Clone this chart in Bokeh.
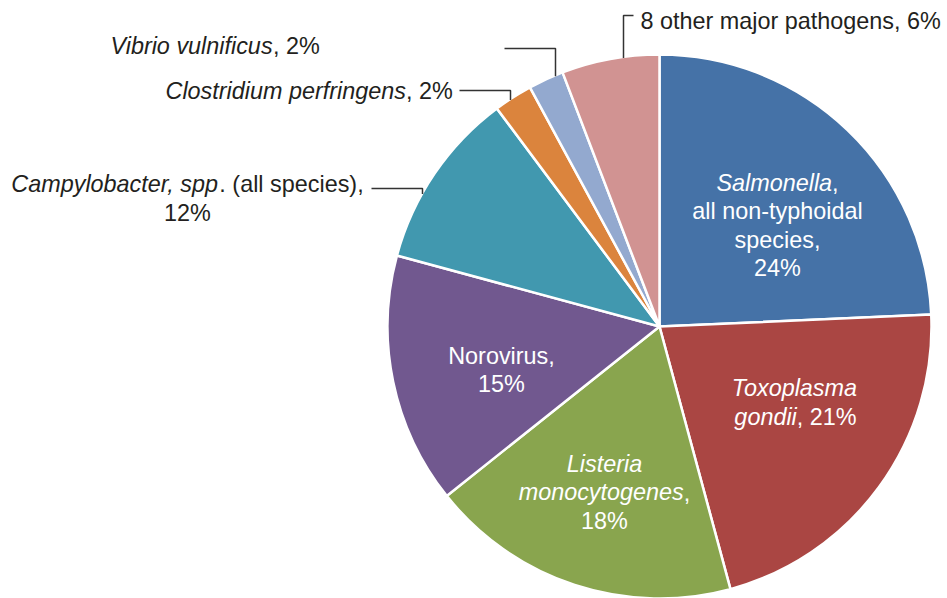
import math
from bokeh.plotting import figure
from bokeh.models import ColumnDataSource, Range1d
from bokeh.core.properties import value
from bokeh.embed import file_html
from bokeh.resources import INLINE

# ---------------- data ----------------
categories = ["Salmonella", "Toxoplasma gondii", "Listeria monocytogenes", "Norovirus",
              "Campylobacter spp.", "Clostridium perfringens", "Vibrio vulnificus",
              "8 other major pathogens"]
shares = [24.3, 21.5, 18.5, 14.9, 10.6, 2.3, 2.1, 5.8]
colors = ["#4572A7", "#AA4643", "#89A54E", "#71588F", "#4198AF", "#DB843D", "#93A9CF", "#D19392"]
pct_labels = ["24%", "21%", "18%", "15%", "12%", "2%", "2%", "6%"]

I, N = "italic", "normal"
label_lines = [
    [[("Salmonella", I), (",", N)], [("all non-typhoidal", N)], [("species,", N)], [(pct_labels[0], N)]],
    [[("Toxoplasma", I)], [("gondii", I), (", " + pct_labels[1], N)]],
    [[("Listeria", I)], [("monocytogenes", I), (",", N)], [(pct_labels[2], N)]],
    [[("Norovirus,", N)], [(pct_labels[3], N)]],
    [[("Campylobacter, spp", I), (". (all species),", N)], [(pct_labels[4], N)]],
    [[("Clostridium perfringens", I), (", " + pct_labels[5], N)]],
    [[("Vibrio vulnificus", I), (", " + pct_labels[6], N)]],
    [[("8 other major pathogens, " + pct_labels[7], N)]],
]

# ---------------- layout (reference pixel coordinates) ----------------
W, H = 947, 598
CX, CY, R = 659, 326, 272
FS = 23.4
# (anchor x, first line y, line spacing, align, text color)
label_pos = [
    (777, 182, 28.5, "center", "white"),
    (795, 387, 29, "center", "white"),
    (604, 463, 28.5, "center", "white"),
    (501, 355, 28, "center", "white"),
    (187, 183, 29, "center", "#231F20"),
    (165, 90, 0, "left", "#231F20"),
    (110, 45, 0, "left", "#231F20"),
    (640, 20, 0, "left", "#231F20"),
]
# leader lines: (start x, elbow y, vertical x) -> vertical runs to the pie edge
leaders = [
    (504, 48, 555),
    (459, 90, 510),
    (371, 188, 422),
]
other_leader = (633, 15, 623)

ARIAL = {' ': 278, '%': 889, '(': 333, ')': 333, ',': 278, '-': 333, '.': 278,
         'C': 722, 'L': 556, 'N': 722, 'S': 667, 'T': 611, 'V': 667}
for ch in "0123456789":
    ARIAL[ch] = 556
ARIAL.update({'a': 556, 'b': 556, 'c': 500, 'd': 556, 'e': 556, 'f': 278, 'g': 556, 'h': 556,
              'i': 222, 'j': 222, 'k': 500, 'l': 222, 'm': 833, 'n': 556, 'o': 556, 'p': 556,
              'q': 556, 'r': 333, 's': 500, 't': 278, 'u': 556, 'v': 500, 'w': 722, 'x': 500,
              'y': 500, 'z': 500})


def tw(s):
    return sum(ARIAL.get(c, 556) for c in s) * FS / 1000.0


def Y(ry):
    return H - ry


p = figure(width=W, height=H, output_backend="svg", toolbar_location=None,
           x_range=Range1d(0, W), y_range=Range1d(0, H),
           min_border=0, min_border_left=0, min_border_right=0,
           min_border_top=0, min_border_bottom=0)
p.axis.visible = False
p.grid.visible = False
p.outline_line_color = None
p.background_fill_color = "white"

# wedges, clockwise from 12 o'clock
total = sum(shares)
starts, ends = [], []
cum = 0.0
for s in shares:
    a0 = math.pi / 2 - 2 * math.pi * (cum + s) / total
    a1 = math.pi / 2 - 2 * math.pi * cum / total
    starts.append(a0)
    ends.append(a1)
    cum += s
src = ColumnDataSource(dict(cat=categories, share=shares, color=colors,
                            start=starts, end=ends))
p.wedge(x=CX, y=Y(CY), radius=R, start_angle="start", end_angle="end",
        fill_color="color", line_color="white", line_width=2.5, source=src)

# leader lines
xs, ys = [], []
for (x0, ey, vx) in leaders:
    yc = CY - math.sqrt(R * R - (vx - CX) ** 2)
    xs.append([x0, vx, vx])
    ys.append([Y(ey), Y(ey), Y(yc + 1)])
ox, oy, ovx = other_leader
yc = CY - math.sqrt(R * R - (ovx - CX) ** 2)
xs.append([ox, ovx, ovx])
ys.append([Y(oy), Y(oy), Y(yc + 1)])
p.multi_line(xs=xs, ys=ys, line_color="#333333", line_width=1.5)

# labels
seg = {I: dict(x=[], y=[], t=[], c=[]), N: dict(x=[], y=[], t=[], c=[])}
for lines, (ax, ay, sp, align, col) in zip(label_lines, label_pos):
    for k, line in enumerate(lines):
        width = sum(tw(t) for t, _ in line)
        x = ax - width / 2 if align == "center" else ax
        y = ay + k * sp
        for t, st in line:
            seg[st]["x"].append(x)
            seg[st]["y"].append(Y(y))
            seg[st]["t"].append(t)
            seg[st]["c"].append(col)
            x += tw(t)

for st in (I, N):
    s = ColumnDataSource(seg[st])
    p.text(x="x", y="y", text="t", text_color="c", source=s,
           text_font=value("Liberation Sans"), text_font_size=f"{FS}px",
           text_font_style=st, text_align="left", text_baseline="middle")

open("out.html", "w").write(file_html(p, INLINE))
